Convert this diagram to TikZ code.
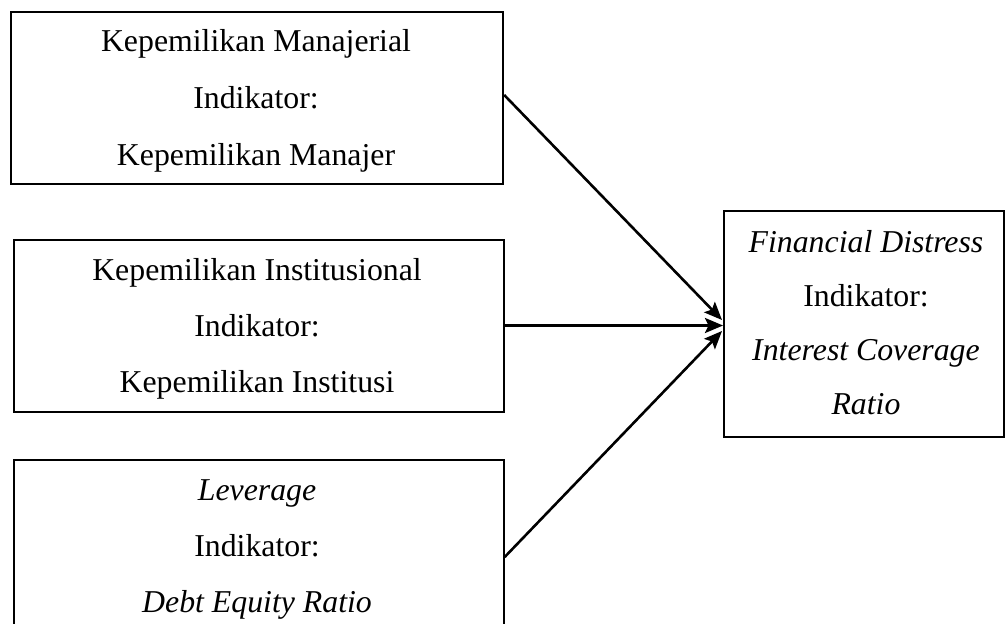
\documentclass[tikz,border=0pt]{standalone}
\usepackage{fontspec}
\setmainfont{Liberation Serif}
\usetikzlibrary{arrows.meta,calc}
\begin{document}
\begin{tikzpicture}[x=1pt,y=-1pt,
  box/.style={draw,line width=2.2pt,rectangle,anchor=north west,inner sep=0pt},
  txt/.style={anchor=base,inner sep=0pt,font=\fontsize{31.8}{38}\selectfont},
  conn/.style={line width=2.6pt,-{Stealth[length=18pt,width=15pt,inset=3.5pt]}}]
\useasboundingbox (0,0) rectangle (1007,624);
\clip (0,0) rectangle (1007,624);
% boxes
\node[box,minimum width=492pt,minimum height=172pt] (b1) at (10,11) {};
\node[box,minimum width=490pt,minimum height=172pt] (b2) at (12.5,239) {};
\node[box,minimum width=490pt,minimum height=175pt] (b3) at (12.5,459) {};
\node[box,minimum width=280pt,minimum height=226pt] (fd) at (723,210) {};
% texts
\node[txt] (t11) at (256,51.5) {Kepemilikan Manajerial};
\node[txt] (t12) at (256,108) {Indikator:};
\node[txt] (t13) at (256,165) {Kepemilikan Manajer};
\node[txt] (t21) at (257,280) {Kepemilikan Institusional};
\node[txt] (t22) at (257,336.5) {Indikator:};
\node[txt] (t23) at (257,392) {Kepemilikan Institusi};
\node[txt] (t31) at (257,500) {\itshape Leverage};
\node[txt] (t32) at (257,556) {Indikator:};
\node[txt] (t33) at (257,612) {\itshape Debt Equity Ratio};
\node[txt] (t41) at (866,252) {\itshape Financial Distress};
\node[txt] (t42) at (866,306.5) {Indikator:};
\node[txt] (t43) at (866,360) {\itshape Interest Coverage};
\node[txt] (t44) at (866,414.5) {\itshape Ratio};
% connector endpoints
\coordinate (s1) at ($(b1.north east)+(0,84)$);
\coordinate (s2) at ($(b2.north east)+(0,86.5)$);
\coordinate (s3) at ($(b3.north east)+(0,98)$);
\coordinate (e1) at ($(fd.north west)+(-1,110)$);
\coordinate (e2) at ($(fd.north west)+(0,115.5)$);
\coordinate (e3) at ($(fd.north west)+(-1,121)$);
\draw[conn] (s1) -- (e1);
\draw[conn] (s2) -- (e2);
\draw[conn] (s3) -- (e3);
\end{tikzpicture}
\end{document}
